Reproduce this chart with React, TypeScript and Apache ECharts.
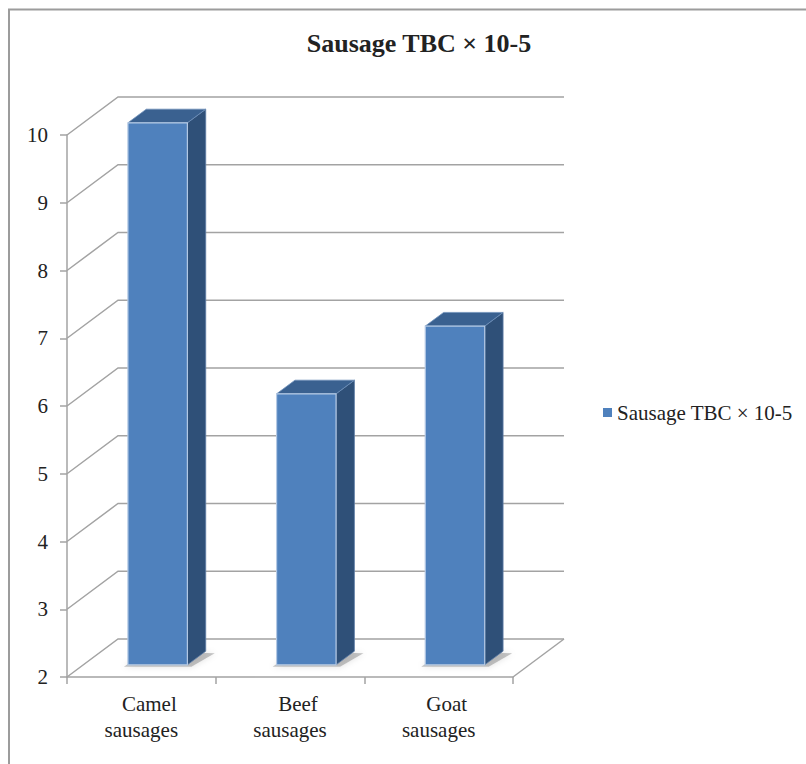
import React, { useEffect, useRef } from "react";
import * as echarts from "echarts";

// Chart data
const TITLE = "Sausage TBC × 10-5";
const SERIES_NAME = "Sausage TBC × 10-5";
const categories = ["Camel sausages", "Beef sausages", "Goat sausages"];
const categoryLines = [
  ["Camel", "sausages"],
  ["Beef", "sausages"],
  ["Goat", "sausages"],
];
const values = [10, 6, 7];
const yTicks = [2, 3, 4, 5, 6, 7, 8, 9, 10];
const Y_MIN = 2;
const Y_MAX = 10;

// 3D look: depth of the plot box and where a bar sits inside it
const DEPTH_X = 51;
const DEPTH_Y = -38;
const BAR_FRONT = 0.32;
const BAR_BACK = 0.68;
const BAR_RATIO = 0.4;

const FONT = "'Liberation Serif', 'Times New Roman', serif";
const TEXT = "#222222";
const GRID_LINE = "#A3A3A3";

export default function App() {
  const ref = useRef<HTMLDivElement>(null);

  useEffect(() => {
    if (!ref.current) return;
    const chart = echarts.init(ref.current, null, { renderer: "svg" });

    const wallData = yTicks.map((t) => [0, t]);
    const barData = values.map((v, i) => [i, v]);

    const option: any = {
      animation: false,
      backgroundColor: "#ffffff",
      title: {
        text: TITLE,
        left: 414,
        top: 25,
        textAlign: "center",
        textStyle: {
          fontFamily: FONT,
          fontSize: 26,
          fontWeight: "bold",
          color: TEXT,
        },
      },
      legend: {
        data: [{ name: SERIES_NAME, icon: "rect" }],
        orient: "vertical",
        left: 603,
        top: 402,
        padding: 0,
        itemWidth: 9,
        itemHeight: 9,
        itemGap: 6,
        textStyle: { fontFamily: FONT, fontSize: 21, color: TEXT },
      },
      grid: { left: 67, right: 293, top: 135, bottom: 87 },
      xAxis: {
        type: "category",
        data: categories,
        boundaryGap: true,
        axisLine: { show: true, lineStyle: { color: GRID_LINE, width: 1.5 } },
        axisTick: { show: true, length: 7, lineStyle: { color: GRID_LINE, width: 1.5 } },
        axisLabel: {
          margin: 14,
          interval: 0,
          formatter: (_: string, idx: number) =>
            `{a|${categoryLines[idx][0]}}\n{b|${categoryLines[idx][1]}}`,
          rich: {
            a: {
              fontFamily: FONT,
              fontSize: 21,
              color: TEXT,
              lineHeight: 26,
              padding: [0, 0, 0, 16],
            },
            b: { fontFamily: FONT, fontSize: 21, color: TEXT, lineHeight: 26 },
          },
        },
        splitLine: { show: false },
      },
      yAxis: {
        type: "value",
        min: Y_MIN,
        max: Y_MAX,
        interval: 1,
        axisLine: { show: true, lineStyle: { color: GRID_LINE, width: 1.5 } },
        axisTick: { show: true, length: 7, lineStyle: { color: GRID_LINE, width: 1.5 } },
        axisLabel: { margin: 19, fontFamily: FONT, fontSize: 21, color: TEXT },
        splitLine: { show: false },
      },
      graphic: [
        {
          type: "rect",
          silent: true,
          z: -10,
          shape: { x: 9, y: 9.5, width: 840, height: 800 },
          style: { fill: "none", stroke: "#9C9C9C", lineWidth: 2 },
        },
      ],
      series: [
        {
          // back wall gridlines, left wall diagonals and floor edge
          type: "custom",
          name: "wall",
          z: 1,
          silent: true,
          clip: false,
          encode: { x: 0, y: 1 },
          data: wallData,
          renderItem: (params: any, api: any) => {
            const cs = params.coordSys;
            const v = api.value(1);
            const p = api.coord([0, v]);
            const y = p[1];
            const xl = cs.x;
            const xr = cs.x + cs.width;
            const children: any[] = [
              {
                type: "polyline",
                shape: {
                  points: [
                    [xl, y],
                    [xl + DEPTH_X, y + DEPTH_Y],
                    [xr + DEPTH_X, y + DEPTH_Y],
                  ],
                },
                style: { stroke: GRID_LINE, lineWidth: 1.5, fill: "none" },
              },
            ];
            if (v === Y_MIN) {
              children.push({
                type: "line",
                shape: { x1: xr, y1: y, x2: xr + DEPTH_X, y2: y + DEPTH_Y },
                style: { stroke: GRID_LINE, lineWidth: 1.5 },
              });
            }
            return { type: "group", children };
          },
        },
        {
          type: "custom",
          name: SERIES_NAME,
          z: 3,
          clip: false,
          itemStyle: { color: "#4F81BD" },
          encode: { x: 0, y: 1 },
          data: barData,
          renderItem: (_params: any, api: any) => {
            const i = api.value(0);
            const v = api.value(1);
            const base = api.coord([i, Y_MIN]);
            const top = api.coord([i, v]);
            const band = api.size([1, 0])[0];
            const w = band * BAR_RATIO;
            const fx = DEPTH_X * BAR_FRONT;
            const fy = DEPTH_Y * BAR_FRONT;
            const ddx = DEPTH_X * (BAR_BACK - BAR_FRONT);
            const ddy = DEPTH_Y * (BAR_BACK - BAR_FRONT);
            const x0 = base[0] - w / 2 + fx;
            const x1 = x0 + w;
            const yT = top[1] + fy;
            const yB = base[1] + fy;
            return {
              type: "group",
              children: [
                {
                  type: "polygon",
                  shape: {
                    points: [
                      [x0 - 4, yB + 2],
                      [x1 + 4, yB + 2],
                      [x1 + ddx + 9, yB + ddy + 2],
                      [x0 + ddx, yB + ddy],
                    ],
                  },
                  style: {
                    fill: "rgba(90,90,90,0.35)",
                    shadowBlur: 6,
                    shadowColor: "rgba(0,0,0,0.35)",
                  },
                },
                {
                  type: "polygon",
                  shape: {
                    points: [
                      [x1, yT],
                      [x1 + ddx, yT + ddy],
                      [x1 + ddx, yB + ddy],
                      [x1, yB],
                    ],
                  },
                  style: { fill: "#2F5078", stroke: "#5F7FA8", lineWidth: 0.8 },
                },
                {
                  type: "polygon",
                  shape: {
                    points: [
                      [x0, yT],
                      [x1, yT],
                      [x1 + ddx, yT + ddy],
                      [x0 + ddx, yT + ddy],
                    ],
                  },
                  style: { fill: "#3A6190", stroke: "#6F90BA", lineWidth: 0.8 },
                },
                {
                  type: "rect",
                  shape: { x: x0, y: yT, width: w, height: yB - yT },
                  style: { fill: "#4F81BD", stroke: "#B4C9E4", lineWidth: 1.2 },
                },
              ],
            };
          },
        },
      ],
    };

    chart.setOption(option);
    return () => chart.dispose();
  }, []);

  return (
    <div
      ref={ref}
      style={{ position: "absolute", left: 0, top: 0, width: 806, height: 764 }}
    />
  );
}
